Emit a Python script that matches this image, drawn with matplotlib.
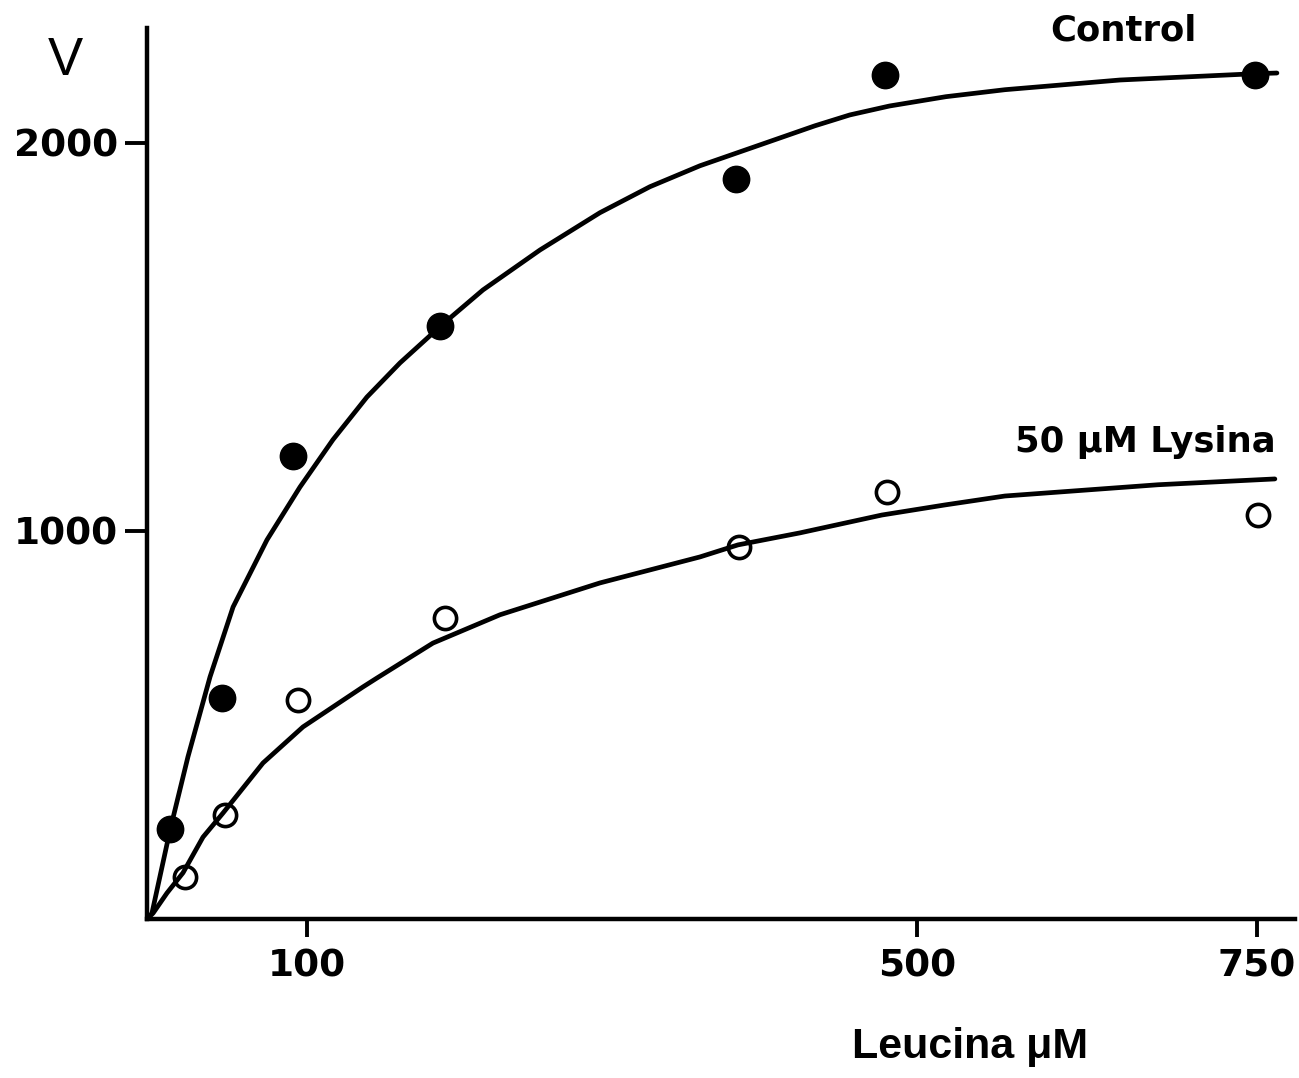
import numpy as np
import matplotlib
matplotlib.use("Agg")
import matplotlib.pyplot as plt
from matplotlib.ticker import NullLocator

# leucine concentration (uM) and velocity, measured points
leu_control = [14.4, 46.9, 91.3, 187.2, 381.3, 479.0, 748.5]
v_control = [232, 570, 1193, 1528, 1907, 2175, 2175]

leu_lysine = [23.8, 48.8, 94.4, 190.5, 383.3, 480.3, 750.7]
v_lysine = [108, 268, 564, 776, 959, 1100, 1041]

# hand-drawn saturation curves
curve_control_x = [0, 3.1, 14.4, 25.6, 39.4, 53.8, 75.0, 95.6, 117.0, 139.3,
                   161.0, 188.5, 215.4, 252.8, 292.1, 324.9, 357.7, 433.1,
                   456.0, 482.0, 521.3, 564.7, 649.3, 747.0, 764.7]
curve_control_v = [0, 15, 229, 418, 624, 804, 977, 1113, 1235, 1345,
                   1433, 1531, 1621, 1724, 1820, 1887, 1941, 2044,
                   2072, 2095, 2119, 2137, 2162, 2178, 2180]

curve_lysine_x = [0, 3.8, 12.5, 22.5, 35.0, 47.5, 72.5, 97.5, 136.7, 145.9,
                  182.6, 226.6, 292.1, 357.7, 382.6, 423.3, 477.0, 520.6,
                  564.7, 677.2, 763.2]
curve_lysine_v = [0, 15, 67, 119, 211, 273, 402, 495, 598, 621,
                  711, 784, 866, 933, 964, 995, 1041, 1067,
                  1090, 1119, 1134]

x_ticks = [100, 500, 750]
y_ticks = [1000, 2000]

# the concentration axis is drawn unevenly: 0-100 wide, 500-750 compressed
knots_val = np.array([0, 100, 500, 750, 1000])
knots_pos = np.array([0, 160, 770, 1110, 1450])


def fwd(x):
    return np.interp(x, knots_val, knots_pos)


def inv(p):
    return np.interp(p, knots_pos, knots_val)


fig = plt.figure(figsize=(12.99, 10.78), dpi=100)
ax = fig.add_axes([147 / 1299, 1 - 919 / 1078, 1148 / 1299, 891 / 1078])
ax.set_xscale("function", functions=(fwd, inv))

lw = 3.4
ax.plot(curve_control_x, curve_control_v, color="black", lw=lw,
        solid_capstyle="round", solid_joinstyle="round")
ax.plot(curve_lysine_x, curve_lysine_v, color="black", lw=lw,
        solid_capstyle="round", solid_joinstyle="round")

ax.plot(leu_control, v_control, "o", ms=19, color="black", zorder=4)
ax.plot(leu_lysine, v_lysine, "o", ms=16, mfc="none", mec="black",
        mew=2.6, zorder=4)

ax.set_xlim(0, 778)
ax.set_ylim(0, 2296)

for s in ["top", "right"]:
    ax.spines[s].set_visible(False)
for s in ["left", "bottom"]:
    ax.spines[s].set_linewidth(3.2)

ax.set_xticks(x_ticks)
ax.set_yticks(y_ticks)
ax.xaxis.set_minor_locator(NullLocator())
ax.yaxis.set_minor_locator(NullLocator())
ax.tick_params(axis="x", direction="out", length=13, width=2.8, pad=8)
ax.tick_params(axis="y", direction="out", length=16, width=2.8, pad=5)

for lab in ax.get_xticklabels() + ax.get_yticklabels():
    lab.set_fontfamily("DejaVu Sans")
    lab.set_fontweight("bold")
    lab.set_fontsize(27)

ax.text(0.7866, 0.9865, "Control", transform=ax.transAxes,
        fontsize=25.5, fontweight="bold", ha="left", va="baseline")
ax.text(0.756, 0.524, "50 μM Lysina", transform=ax.transAxes,
        fontsize=25.5, fontweight="bold", ha="left", va="baseline")

fig.text(48 / 1299, 1 - 75 / 1078, "V", fontsize=38,
         family=["Liberation Sans", "DejaVu Sans"],
         ha="left", va="baseline")
fig.text(970 / 1299, 1 - 1058 / 1078, "Leucina μM", fontsize=31,
         fontweight="bold", family=["Liberation Sans", "DejaVu Sans"],
         ha="center", va="baseline")

fig.savefig("out.png", dpi=100, facecolor="white")
